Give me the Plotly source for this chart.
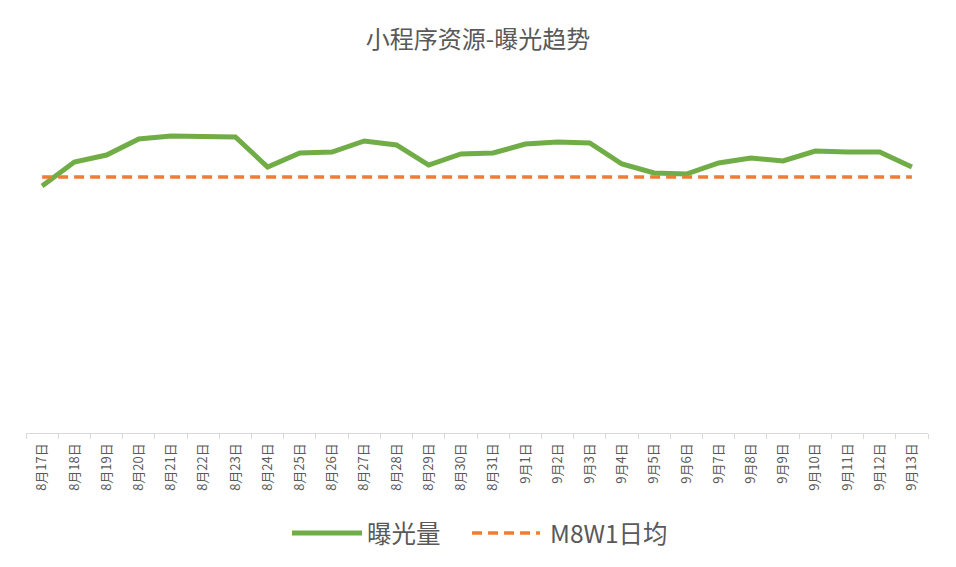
import plotly.graph_objects as go

dates = ["8月17日", "8月18日", "8月19日", "8月20日", "8月21日", "8月22日", "8月23日",
         "8月24日", "8月25日", "8月26日", "8月27日", "8月28日", "8月29日", "8月30日",
         "8月31日", "9月1日", "9月2日", "9月3日", "9月4日", "9月5日", "9月6日",
         "9月7日", "9月8日", "9月9日", "9月10日", "9月11日", "9月12日", "9月13日"]
exposure = [247, 271, 278, 294, 297, 297, 296, 266, 280, 281, 292, 288, 268, 279,
            280, 289, 291, 290, 269, 260, 259, 270, 275, 272, 282, 281, 281, 266]
avg_value = 256
avg_line = [avg_value] * len(dates)
series_names = ["曝光量", "M8W1日均"]
series_colors = ["#70AD47", "#ED7D31"]

FONT = "Noto Sans CJK SC, Noto Sans, sans-serif"
GRAY = "#595959"

fig = go.Figure()
fig.add_trace(go.Scatter(x=dates, y=exposure, mode="lines", name=series_names[0],
                         line=dict(color=series_colors[0], width=5), showlegend=False))
fig.add_trace(go.Scatter(x=dates, y=avg_line, mode="lines", name=series_names[1],
                         line=dict(color=series_colors[1], width=3.5, dash="10px,6px"),
                         showlegend=False))

# custom legend (long symbols like the original)
leg_y = -0.2857
fig.add_shape(type="line", xref="paper", yref="paper", x0=0.2949, x1=0.3725, y0=leg_y, y1=leg_y,
              line=dict(color=series_colors[0], width=5))
fig.add_shape(type="line", xref="paper", yref="paper", x0=0.4945, x1=0.5698, y0=leg_y, y1=leg_y,
              line=dict(color=series_colors[1], width=3.5, dash="10px,6px"))
fig.add_annotation(xref="paper", yref="paper", x=0.3758, y=leg_y, xanchor="left", yanchor="middle",
                   text=series_names[0], showarrow=False,
                   font=dict(family=FONT, size=24.5, color=GRAY))
fig.add_annotation(xref="paper", yref="paper", x=0.5787, y=leg_y, xanchor="left", yanchor="middle",
                   text=series_names[1], showarrow=False,
                   font=dict(family=FONT, size=24.5, color=GRAY))

fig.update_layout(
    width=940, height=551,
    paper_bgcolor="white", plot_bgcolor="white",
    margin=dict(l=18, r=20, t=75, b=126),
    title=dict(text="小程序资源-曝光趋势", x=0.5, xanchor="center", y=0.942, yanchor="middle",
               font=dict(family=FONT, size=24, color=GRAY)),
    font=dict(family=FONT, color=GRAY),
    showlegend=False,
    xaxis=dict(type="category", showline=True, linecolor="#d9d9d9", linewidth=1,
               ticks="outside", tickson="boundaries", ticklen=5, tickcolor="#d9d9d9",
               tickangle=-90, tickfont=dict(family=FONT, size=13, color=GRAY),
               ticklabelstandoff=4,
               showgrid=False, zeroline=False, range=[-0.5, len(dates) - 0.5]),
    yaxis=dict(visible=False, range=[0, 350], showgrid=False, zeroline=False),
)

fig.write_html("out.html")
